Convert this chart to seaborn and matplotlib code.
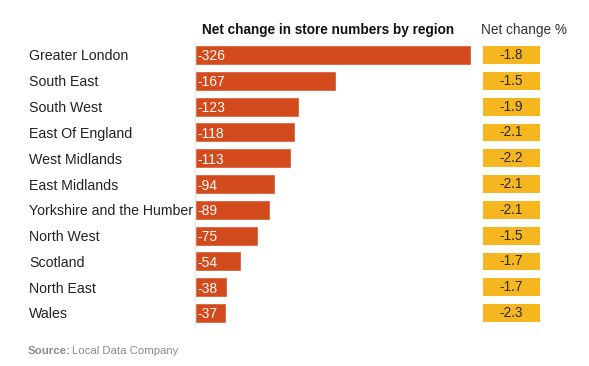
import numpy as np
import pandas as pd
import seaborn as sns
import matplotlib.pyplot as plt
from matplotlib.colors import ListedColormap

regions = ['Greater London', 'South East', 'South West', 'East Of England',
           'West Midlands', 'East Midlands', 'Yorkshire and the Humber',
           'North West', 'Scotland', 'North East', 'Wales']
net_change = [-326, -167, -123, -118, -113, -94, -89, -75, -54, -38, -37]
pct_change = [-1.8, -1.5, -1.9, -2.1, -2.2, -2.1, -2.1, -1.5, -1.7, -1.7, -2.3]

sns.set_style('white')
plt.rcParams['font.family'] = ['Liberation Sans', 'DejaVu Sans']

df = pd.DataFrame({'region': regions, 'change': net_change, 'pct': pct_change})
df['size'] = df['change'].abs()

fig = plt.figure(figsize=(5.89, 3.66), dpi=100)
W, H = 589, 366
top, bot = 42.1, 325.9

# bars
ax = fig.add_axes([195 / W, 1 - bot / H, (471 - 195) / W, (bot - top) / H])
sns.barplot(data=df, x='size', y='region', color='#d34b1c', width=0.78,
            saturation=1, ax=ax, orient='h')
ax.set_xlim(0, 326)
ax.set_xlabel('')
ax.set_ylabel('')
ax.set_xticks([])
for s in ['top', 'right', 'bottom']:
    ax.spines[s].set_visible(False)
ax.spines['left'].set_color('#e6e6e6')
ax.spines['left'].set_linewidth(0.8)
ax.tick_params(axis='y', length=0, pad=(195 - 29) * 0.72)
for lab in ax.get_yticklabels():
    lab.set_ha('left')
    lab.set_fontsize(10.2)
    lab.set_color('#222222')
for i, v in enumerate(net_change):
    ax.text(3, i, str(v), color='white', fontsize=10, va='center_baseline', ha='left')

# percentage boxes
ax2 = fig.add_axes([479 / W, 1 - bot / H, (544 - 479) / W, (bot - top) / H])
sns.heatmap(df[['pct']], cmap=ListedColormap(['#f6b61f']), cbar=False,
            annot=True, fmt='.1f', linewidths=4.5, linecolor='white',
            annot_kws={'color': '#2a2a2a', 'fontsize': 9.8},
            xticklabels=False, yticklabels=False, ax=ax2)

fig.text(328 / W, 1 - 30 / H, 'Net change in store numbers by region',
         ha='center', va='center', fontsize=9.8, fontweight='bold', color='#111111')
fig.text(524 / W, 1 - 30 / H, 'Net change %', ha='center', va='center',
         fontsize=9.8, color='#333333')
src = fig.text(28 / W, 1 - 351 / H, 'Source:', ha='left', va='center',
               fontsize=8.2, fontweight='bold', color='#8a8a8a')
fig.canvas.draw()
x_end = src.get_window_extent().x1
fig.text((x_end + 1.5) / W, 1 - 351 / H, 'Local Data Company', ha='left', va='center',
         fontsize=8.2, color='#8a8a8a')

fig.savefig('out.png', dpi=100)
